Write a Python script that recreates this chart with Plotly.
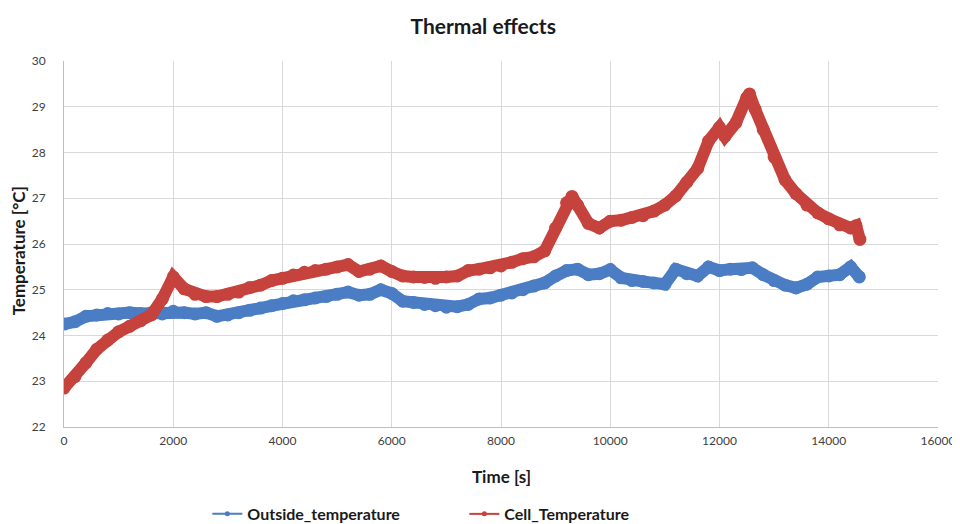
import plotly.graph_objects as go

# ---- data ----
outside_time = [0, 200, 400, 600, 800, 1000, 1200, 1400, 1600, 1800, 2000, 2200, 2400, 2600, 2800,
                3000, 3200, 3400, 3600, 3800, 4000, 4200, 4400, 4600, 4800, 5000, 5200, 5400, 5600,
                5800, 6000, 6200, 6400, 6600, 6800, 7000, 7200, 7400, 7600, 7800, 8000, 8200, 8400,
                8600, 8800, 9000, 9200, 9400, 9600, 9800, 10000, 10200, 10400, 10600, 10800, 11000,
                11200, 11400, 11600, 11800, 12000, 12200, 12400, 12600, 12800, 13000, 13200, 13400,
                13600, 13800, 14000, 14200, 14400, 14560]
outside_temperature = [24.25, 24.3, 24.42, 24.45, 24.48, 24.47, 24.5, 24.48, 24.5, 24.47, 24.53, 24.5,
                       24.47, 24.5, 24.42, 24.45, 24.5, 24.55, 24.6, 24.65, 24.7, 24.76, 24.78, 24.82,
                       24.85, 24.9, 24.95, 24.88, 24.9, 25.0, 24.92, 24.75, 24.72, 24.68, 24.65, 24.62,
                       24.63, 24.68, 24.8, 24.82, 24.88, 24.93, 25.0, 25.08, 25.15, 25.3, 25.42, 25.45,
                       25.33, 25.35, 25.44, 25.26, 25.2, 25.18, 25.15, 25.12, 25.45, 25.35, 25.3, 25.5,
                       25.42, 25.45, 25.44, 25.48, 25.33, 25.2, 25.1, 25.04, 25.12, 25.28, 25.3, 25.33,
                       25.5, 25.28]

cell_time = [0, 200, 400, 600, 800, 1000, 1200, 1400, 1600, 1800, 2000, 2200, 2400, 2600, 2800,
             3000, 3200, 3400, 3600, 3800, 4000, 4200, 4400, 4600, 4800, 5000, 5200, 5400, 5600,
             5800, 6000, 6200, 6400, 6600, 6800, 7000, 7200, 7400, 7600, 7800, 8000, 8200, 8400,
             8600, 8800, 9000, 9200, 9300, 9400, 9600, 9800, 10000, 10200, 10400, 10600, 10800,
             11000, 11200, 11400, 11600, 11800, 12000, 12100, 12300, 12500, 12550, 12650, 12800,
             13000, 13200, 13400, 13600, 13800, 14000, 14200, 14400, 14500, 14570]
cell_temperature = [22.85, 23.1, 23.4, 23.7, 23.9, 24.08, 24.2, 24.32, 24.45, 24.8, 25.28, 25.02,
                    24.9, 24.85, 24.85, 24.9, 24.95, 25.05, 25.1, 25.2, 25.25, 25.32, 25.38, 25.42,
                    25.45, 25.5, 25.55, 25.4, 25.45, 25.52, 25.4, 25.3, 25.28, 25.27, 25.25, 25.28,
                    25.3, 25.42, 25.45, 25.48, 25.52, 25.6, 25.68, 25.72, 25.85, 26.35, 26.9, 27.04,
                    26.85, 26.45, 26.35, 26.5, 26.52, 26.58, 26.62, 26.72, 26.85, 27.05, 27.35, 27.65,
                    28.25, 28.55, 28.35, 28.65, 29.2, 29.28, 28.95, 28.5, 27.9, 27.4, 27.1, 26.85,
                    26.68, 26.55, 26.42, 26.35, 26.4, 26.1]

x_ticks = [0, 2000, 4000, 6000, 8000, 10000, 12000, 14000, 16000]
y_ticks = [22, 23, 24, 25, 26, 27, 28, 29, 30]

BLUE = "#4A7DC4"
RED = "#C6423C"
FONT = "Lato, Open Sans, sans-serif"

fig = go.Figure()

fig.add_trace(go.Scatter(x=outside_time, y=outside_temperature, mode="lines+markers",
                         line=dict(color=BLUE, width=12), marker=dict(color=BLUE, size=13),
                         showlegend=False, hoverinfo="skip"))
fig.add_trace(go.Scatter(x=cell_time, y=cell_temperature, mode="lines+markers",
                         line=dict(color=RED, width=12), marker=dict(color=RED, size=13),
                         showlegend=False, hoverinfo="skip"))

# legend entries (thin line with small marker, like the reference)
fig.add_trace(go.Scatter(x=[None], y=[None], mode="lines+markers", name="<b>Outside_temperature</b>",
                         line=dict(color=BLUE, width=2), marker=dict(color=BLUE, size=5)))
fig.add_trace(go.Scatter(x=[None], y=[None], mode="lines+markers", name="<b>Cell_Temperature</b>",
                         line=dict(color=RED, width=2), marker=dict(color=RED, size=5)))

fig.update_layout(
    width=960, height=524,
    margin=dict(l=56, r=30, t=53, b=105),
    paper_bgcolor="white", plot_bgcolor="white",
    font=dict(family=FONT, color="#404040"),
    title=dict(text="<b>Thermal effects</b>", x=0.495, xref="container", xanchor="center",
               y=0.964, yref="container", yanchor="middle",
               font=dict(size=21, color="#1a1a1a", family=FONT)),
    legend=dict(orientation="h", x=0.164, xanchor="left", xref="paper",
                y=0.0344, yref="container", yanchor="middle",
                font=dict(size=16, color="#1a1a1a", family=FONT),
                entrywidth=212, entrywidthmode="pixels", bgcolor="rgba(0,0,0,0)"),
    xaxis=dict(range=[0, 16000], tickvals=x_ticks, ticktext=[str(v) for v in x_ticks],
               showgrid=True, gridcolor="#D9D9D9", gridwidth=1, automargin=False,
               showline=True, linecolor="#BFBFBF", linewidth=1, zeroline=False,
               ticks="", tickfont=dict(size=12, color="#404040"), ticklabelstandoff=3),
    yaxis=dict(range=[22, 30], tickvals=y_ticks, ticktext=[str(v) for v in y_ticks],
               showgrid=True, gridcolor="#D9D9D9", gridwidth=1, automargin=False,
               showline=True, linecolor="#BFBFBF", linewidth=1, zeroline=False,
               ticks="", tickfont=dict(size=12, color="#404040"), ticklabelstandoff=15),
    annotations=[
        dict(text="<b>Time [s]</b>", xref="paper", yref="paper", x=0.5, y=-0.134,
             xanchor="center", yanchor="middle", showarrow=False,
             font=dict(size=17, color="#1a1a1a", family=FONT)),
        dict(text="<b>Temperature [°C]</b>", xref="paper", yref="paper", x=-0.0526, y=0.48,
             xanchor="center", yanchor="middle", showarrow=False, textangle=-90,
             font=dict(size=17, color="#1a1a1a", family=FONT)),
    ],
)

fig.write_html("out.html")
